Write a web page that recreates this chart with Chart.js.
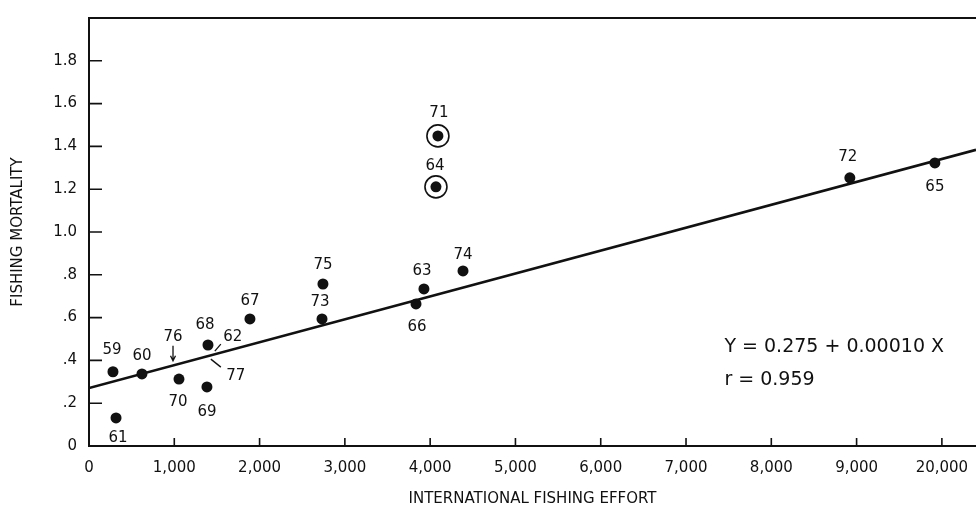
<!DOCTYPE html>
<html>
<head>
<meta charset="utf-8">
<script src="https://cdn.jsdelivr.net/npm/chart.js@4/dist/chart.umd.min.js"></script>
<style>
  html, body { margin: 0; padding: 0; background: #fff; }
  #wrap { width: 976px; height: 513px; }
</style>
</head>
<body>
<div id="wrap"><canvas id="chart" width="976" height="513"></canvas></div>
<script>
// plotted years (dots), effort and mortality
const years = ['59', '60', '61', '63', '64', '65', '66', '67', '68', '69', '70', '71', '72', '73', '74', '75'];
const effort = [281, 621, 317, 3927, 4068, 9918, 3834, 1887, 1395, 1383, 1055, 4091, 8921, 2732, 4385, 2743];
const mortality = [0.347, 0.337, 0.131, 0.734, 1.211, 1.323, 0.664, 0.594, 0.472, 0.276, 0.313, 1.449, 1.253, 0.594, 0.818, 0.757];
const circledYears = ['64', '71'];

// years that sit on the fitted line, shown only by a pointer
const lineYears = ['76', '62', '77'];
const lineYearEffort = [985, 1440, 1440];
const lineYearMortality = [0.375, 0.425, 0.42];

// fitted line, ends
const fitEffort = [0, 10400];
const fitMortality = [0.271, 1.384];

const xTickValues = [0, 1000, 2000, 3000, 4000, 5000, 6000, 7000, 8000, 9000, 10000];
const xTickLabels = ['0', '1,000', '2,000', '3,000', '4,000', '5,000', '6,000', '7,000', '8,000', '9,000', '20,000'];
const yTickValues = [0, 0.2, 0.4, 0.6, 0.8, 1.0, 1.2, 1.4, 1.6, 1.8];
const yTickLabels = ['0', '.2', '.4', '.6', '.8', '1.0', '1.2', '1.4', '1.6', '1.8'];

const equationLines = ['Y = 0.275 + 0.00010 X', 'r = 0.959'];

const ink = '#111';
const font = 'DejaVu Sans';

// where each year label sits relative to its dot (px)
const labelOffset = {
  '59': [-1, -22], '60': [0, -18], '61': [2, 20], '63': [-2, -18], '64': [-1, -21],
  '65': [0, 24], '66': [1, 23], '67': [0, -18], '68': [-3, -20], '69': [0, 25],
  '70': [-1, 23], '71': [1, -23], '72': [-2, -21], '73': [-2, -17], '74': [0, -16],
  '75': [0, -19]
};

function labelFor(values, labels, v) {
  const i = values.findIndex(t => Math.abs(t - v) < 1e-6);
  return i < 0 ? '' : labels[i];
}

function noPadding(scale) {
  scale.paddingLeft = 0;
  scale.paddingRight = 0;
  scale.paddingTop = 0;
  scale.paddingBottom = 0;
}

const inkPlugin = {
  id: 'ink',
  afterDatasetsDraw(chart) {
    const { ctx, chartArea, scales: { x, y } } = chart;
    ctx.save();
    ctx.strokeStyle = ink;
    ctx.fillStyle = ink;

    // top frame
    ctx.lineWidth = 2;
    ctx.beginPath();
    ctx.moveTo(chartArea.left, chartArea.top);
    ctx.lineTo(chartArea.right, chartArea.top);
    ctx.stroke();

    // inward tick marks
    ctx.lineWidth = 1.6;
    ctx.beginPath();
    yTickValues.forEach(v => {
      if (v === 0) return;
      const py = y.getPixelForValue(v);
      ctx.moveTo(chartArea.left, py);
      ctx.lineTo(chartArea.left + 13, py);
    });
    xTickValues.forEach(v => {
      if (v === 0) return;
      const px = x.getPixelForValue(v);
      ctx.moveTo(px, chartArea.bottom);
      ctx.lineTo(px, chartArea.bottom - 8);
    });
    ctx.stroke();

    // rings round the outliers
    ctx.lineWidth = 1.6;
    circledYears.forEach(yr => {
      const i = years.indexOf(yr);
      ctx.beginPath();
      ctx.arc(x.getPixelForValue(effort[i]), y.getPixelForValue(mortality[i]), 11, 0, Math.PI * 2);
      ctx.stroke();
    });

    // year labels
    ctx.font = '15px "' + font + '"';
    ctx.textAlign = 'center';
    ctx.textBaseline = 'middle';
    years.forEach((yr, i) => {
      const off = labelOffset[yr];
      ctx.fillText(yr, x.getPixelForValue(effort[i]) + off[0], y.getPixelForValue(mortality[i]) + off[1]);
    });

    // pointer labels for years on the line
    ctx.lineWidth = 1.3;
    lineYears.forEach((yr, i) => {
      const px = x.getPixelForValue(lineYearEffort[i]);
      const py = y.getPixelForValue(lineYearMortality[i]);
      ctx.beginPath();
      if (yr === '76') {
        ctx.moveTo(px, py - 20); ctx.lineTo(px, py - 5);
        ctx.moveTo(px - 2.5, py - 10); ctx.lineTo(px, py - 5); ctx.lineTo(px + 2.5, py - 10);
        ctx.stroke();
        ctx.fillText(yr, px, py - 29);
      } else if (yr === '62') {
        ctx.moveTo(px + 3, py - 4); ctx.lineTo(px + 9, py - 11);
        ctx.stroke();
        ctx.fillText(yr, px + 21, py - 18);
      } else {
        ctx.moveTo(px - 1, py + 3); ctx.lineTo(px + 9, py + 11);
        ctx.stroke();
        ctx.fillText(yr, px + 24, py + 20);
      }
    });

    // regression note
    ctx.font = '19px "' + font + '"';
    ctx.textAlign = 'left';
    ctx.textBaseline = 'alphabetic';
    ctx.fillText(equationLines[0], x.getPixelForValue(7450), y.getPixelForValue(0.44));
    ctx.fillText(equationLines[1], x.getPixelForValue(7450), y.getPixelForValue(0.285));
    ctx.restore();
  }
};

new Chart(document.getElementById('chart'), {
  type: 'scatter',
  data: {
    datasets: [
      {
        label: 'Fishing mortality',
        data: years.map((yr, i) => ({ x: effort[i], y: mortality[i] })),
        backgroundColor: ink,
        borderColor: ink,
        pointRadius: 5.5,
        pointBorderWidth: 0,
      },
      {
        label: 'Fit',
        data: fitEffort.map((v, i) => ({ x: v, y: fitMortality[i] })),
        showLine: true,
        borderColor: ink,
        borderWidth: 2.6,
        pointRadius: 0,
      },
    ],
  },
  options: {
    responsive: false,
    animation: false,
    layout: { autoPadding: false, padding: { top: 18, right: 0, left: 0, bottom: 0 } },
    plugins: { legend: { display: false }, tooltip: { enabled: false } },
    scales: {
      x: {
        type: 'linear',
        min: 0,
        max: 10400,
        afterBuildTicks: scale => { scale.ticks = xTickValues.map(v => ({ value: v })); },
        afterFit: scale => { scale.height = 67; noPadding(scale); },
        grid: { display: false, drawTicks: false },
        border: { display: true, color: ink, width: 2 },
        ticks: {
          color: ink,
          padding: 13,
          maxRotation: 0,
          autoSkip: false,
          font: { family: font, size: 15 },
          callback: v => labelFor(xTickValues, xTickLabels, v),
        },
        title: {
          display: true,
          text: 'INTERNATIONAL FISHING EFFORT',
          color: ink,
          font: { family: font, size: 15 },
          padding: { top: 0, bottom: 5 },
        },
      },
      y: {
        type: 'linear',
        min: 0,
        max: 2.0,
        afterBuildTicks: scale => { scale.ticks = yTickValues.map(v => ({ value: v })); },
        afterFit: scale => { scale.width = 89; noPadding(scale); },
        grid: { display: false, drawTicks: false },
        border: { display: true, color: ink, width: 2 },
        ticks: {
          color: ink,
          padding: 12,
          autoSkip: false,
          font: { family: font, size: 15 },
          callback: v => labelFor(yTickValues, yTickLabels, v),
        },
        title: {
          display: true,
          text: 'FISHING MORTALITY',
          color: ink,
          font: { family: font, size: 15 },
          padding: { top: 9, bottom: 0 },
        },
      },
    },
  },
  plugins: [inkPlugin],
});
</script>
</body>
</html>
